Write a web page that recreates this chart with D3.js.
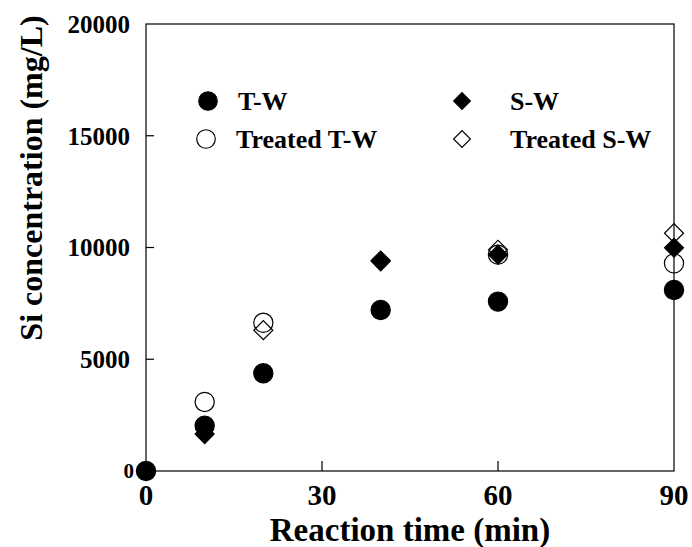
<!DOCTYPE html>
<html>
<head>
<meta charset="utf-8">
<script src="https://cdn.jsdelivr.net/npm/d3@7"></script>
<style>
  body { margin: 0; background: #fff; }
  svg text { font-family: "Liberation Serif", "Times New Roman", serif; font-weight: bold; fill: #000; }
</style>
</head>
<body>
<svg id="chart" width="692" height="547"></svg>
<script>
// data
var twTime = [0, 10, 20, 40, 60, 90];
var twSi = [0, 2030, 4370, 7200, 7580, 8100];
var ttwTime = [10, 20, 60, 90];
var ttwSi = [3090, 6630, 9680, 9290];
var swTime = [10, 40, 60, 90];
var swSi = [1650, 9380, 9680, 9990];
var tswTime = [20, 40, 60, 90];
var tswSi = [6300, 9420, 9900, 10640];
var xTicks = [0, 30, 60, 90];
var yTicks = [0, 5000, 10000, 15000, 20000];

var margin = {left: 146, top: 24, right: 18, bottom: 76};
var width = 692 - margin.left - margin.right,
    height = 547 - margin.top - margin.bottom;

var svg = d3.select("#chart");
var g = svg.append("g").attr("transform", "translate(" + margin.left + "," + margin.top + ")");

var x = d3.scaleLinear().domain([0, 90]).range([0, width]);
var y = d3.scaleLinear().domain([0, 20000]).range([height, 0]);

// frame
g.append("rect").attr("width", width).attr("height", height)
  .attr("fill", "none").attr("stroke", "#000").attr("stroke-width", 1.2);

// inward ticks
g.selectAll(".yt").data(yTicks.slice(1, 4)).enter().append("line")
  .attr("x1", 0).attr("x2", 8)
  .attr("y1", function(d) { return y(d); }).attr("y2", function(d) { return y(d); })
  .attr("stroke", "#000").attr("stroke-width", 1.2);
g.selectAll(".xt").data(xTicks.slice(1, 3)).enter().append("line")
  .attr("x1", function(d) { return x(d); }).attr("x2", function(d) { return x(d); })
  .attr("y1", height).attr("y2", height - 10)
  .attr("stroke", "#000").attr("stroke-width", 1.2);

// tick labels
g.selectAll(".yl").data(yTicks).enter().append("text")
  .attr("x", function(d) { return d === 0 ? -12 : -16; })
  .attr("y", function(d) { return y(d); })
  .attr("dy", "0.35em")
  .attr("text-anchor", "end")
  .style("font-size", function(d) { return d === 0 ? "21px" : "25px"; })
  .text(function(d) { return d; });

g.selectAll(".xl").data(xTicks).enter().append("text")
  .attr("x", function(d) { return x(d); })
  .attr("y", height + 34)
  .attr("text-anchor", "middle")
  .style("font-size", "29px")
  .text(function(d) { return d; });

// axis titles
svg.append("text")
  .attr("x", 410)
  .attr("y", 541)
  .attr("text-anchor", "middle")
  .style("font-size", "33px")
  .text("Reaction time (min)");

svg.append("text")
  .attr("transform", "translate(42,178) rotate(-90)")
  .attr("text-anchor", "middle")
  .style("font-size", "32px")
  .text("Si concentration (mg/L)");

// markers
var circle = d3.symbol().type(d3.symbolCircle).size(290);
var diamond = d3.symbol().type(d3.symbolSquare).size(180);

function plot(times, vals, sym, filled, rot) {
  g.append("g").selectAll("path").data(d3.zip(times, vals)).enter().append("path")
    .attr("d", sym)
    .attr("transform", function(d) {
      return "translate(" + x(d[0]) + "," + y(d[1]) + ")" + (rot ? " rotate(45)" : "");
    })
    .attr("fill", filled ? "#000" : "none")
    .attr("stroke", "#000")
    .attr("stroke-width", 1.2);
}

plot(twTime, twSi, circle, true, false);
plot(ttwTime, ttwSi, circle, false, false);
plot(swTime, swSi, diamond, true, true);
plot(tswTime, tswSi, diamond, false, true);

// legend
var legend = [
  {label: "T-W", filled: true, rot: false, x: 208, y: 101},
  {label: "Treated T-W", filled: false, rot: false, x: 206, y: 139},
  {label: "S-W", filled: true, rot: true, x: 462, y: 101},
  {label: "Treated S-W", filled: false, rot: true, x: 462, y: 139}
];
var lg = svg.append("g").selectAll("g").data(legend).enter().append("g")
  .attr("transform", function(d) { return "translate(" + d.x + "," + d.y + ")"; });
lg.append("path")
  .attr("d", function(d) { return d.rot ? d3.symbol().type(d3.symbolSquare).size(140)() : d3.symbol().type(d3.symbolCircle).size(270)(); })
  .attr("transform", function(d) { return d.rot ? "rotate(45)" : null; })
  .attr("fill", function(d) { return d.filled ? "#000" : "none"; })
  .attr("stroke", "#000").attr("stroke-width", 1.2);
lg.append("text")
  .attr("x", function(d) { return d.rot ? 48 : 30; })
  .attr("dy", "0.35em")
  .style("font-size", "26px")
  .text(function(d) { return d.label; });
</script>
</body>
</html>
